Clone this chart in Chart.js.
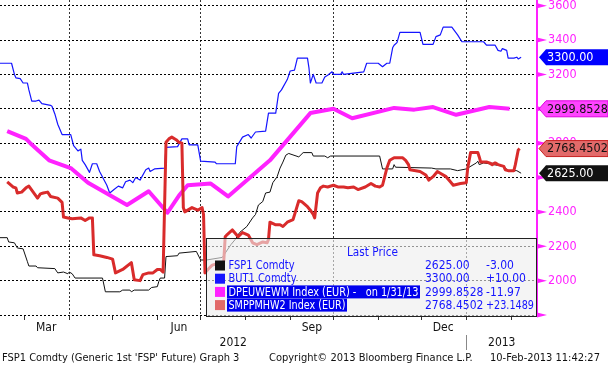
<!DOCTYPE html>
<html>
<head>
<meta charset="utf-8">
<script src="https://cdn.jsdelivr.net/npm/chart.js@4.4.0/dist/chart.umd.min.js"></script>
<style>
  html, body { margin: 0; padding: 0; background: #fff; }
  #wrap { width: 608px; height: 369px; }
</style>
</head>
<body>
<div id="wrap"><canvas id="chart" width="608" height="369"></canvas></div>
<script>
// FSP1 Comdty (black)
const fsp1Dates = ['2012-02-13','2012-02-18','2012-02-19','2012-02-23','2012-02-25','2012-02-29','2012-03-03','2012-03-04','2012-03-09','2012-03-10','2012-03-22','2012-03-24','2012-03-28','2012-03-31','2012-04-01','2012-04-03','2012-04-05','2012-04-24','2012-04-26','2012-05-06','2012-05-08','2012-05-13','2012-05-14','2012-05-16','2012-05-26','2012-05-28','2012-06-01','2012-06-02','2012-06-03','2012-06-06','2012-06-07','2012-06-15','2012-06-16','2012-06-28','2012-07-01','2012-07-05','2012-07-16','2012-07-22','2012-07-25','2012-07-28','2012-08-02','2012-08-06','2012-08-08','2012-08-10','2012-08-13','2012-08-15','2012-08-18','2012-08-20','2012-08-23','2012-08-25','2012-08-27','2012-08-29','2012-08-31','2012-09-07','2012-09-10','2012-09-16','2012-09-17','2012-09-25','2012-09-27','2012-09-29','2012-11-02','2012-11-04','2012-11-11','2012-11-12','2012-11-13','2012-12-08','2012-12-11','2012-12-21','2012-12-26','2013-01-01','2013-01-08','2013-01-09','2013-01-10','2013-01-13','2013-01-17','2013-01-19','2013-01-20','2013-01-27','2013-01-30','2013-02-05','2013-02-08'];
const fsp1Values = [2250,2250,2225,2220,2190,2185,2110,2085,2085,2075,2070,2045,2050,2040,2050,2040,2015,2015,1935,1935,1945,1945,1935,1945,1945,1960,1965,1995,2015,2015,2140,2145,2160,2170,2120,2120,2135,2210,2240,2280,2315,2365,2385,2440,2460,2510,2515,2570,2605,2655,2690,2730,2740,2720,2745,2745,2725,2725,2715,2725,2725,2650,2650,2675,2660,2655,2650,2650,2640,2650,2685,2695,2675,2685,2680,2685,2675,2665,2640,2640,2625];

// BUT1 Comdty (blue)
const but1Dates = ['2012-02-13','2012-02-21','2012-02-23','2012-02-24','2012-02-27','2012-02-29','2012-03-03','2012-03-04','2012-03-06','2012-03-09','2012-03-11','2012-03-13','2012-03-19','2012-03-20','2012-03-22','2012-03-24','2012-03-27','2012-04-02','2012-04-04','2012-04-07','2012-04-09','2012-04-10','2012-04-12','2012-04-15','2012-04-17','2012-04-20','2012-04-22','2012-04-27','2012-04-29','2012-05-02','2012-05-05','2012-05-08','2012-05-10','2012-05-13','2012-05-15','2012-05-17','2012-05-20','2012-05-24','2012-05-26','2012-05-27','2012-05-30','2012-06-06','2012-06-07','2012-06-15','2012-06-18','2012-06-22','2012-06-23','2012-06-29','2012-07-01','2012-07-11','2012-07-12','2012-07-25','2012-07-26','2012-07-30','2012-08-03','2012-08-05','2012-08-08','2012-08-15','2012-08-17','2012-08-22','2012-08-24','2012-08-26','2012-08-30','2012-09-01','2012-09-04','2012-09-06','2012-09-13','2012-09-14','2012-09-15','2012-09-17','2012-09-19','2012-09-23','2012-09-25','2012-09-27','2012-09-30','2012-10-01','2012-10-06','2012-10-07','2012-10-08','2012-10-22','2012-10-24','2012-11-01','2012-11-04','2012-11-07','2012-11-09','2012-11-11','2012-11-12','2012-11-14','2012-11-16','2012-11-30','2012-12-02','2012-12-09','2012-12-11','2012-12-14','2012-12-16','2012-12-22','2012-12-26','2012-12-29','2013-01-13','2013-01-15','2013-01-21','2013-01-23','2013-01-25','2013-01-26','2013-01-29','2013-01-30','2013-02-03','2013-02-05','2013-02-06','2013-02-08'];
const but1Values = [3265,3265,3200,3180,3175,3150,3150,3110,3045,3045,3050,3030,3020,3015,2970,2910,2850,2850,2785,2755,2765,2700,2675,2630,2680,2680,2635,2555,2510,2530,2550,2540,2575,2585,2570,2600,2585,2645,2655,2635,2650,2655,2775,2780,2825,2825,2790,2790,2695,2690,2680,2680,2780,2835,2850,2830,2865,2870,2975,2975,3090,3110,3170,3220,3225,3295,3295,3240,3150,3200,3150,3150,3185,3195,3215,3200,3200,3215,3200,3215,3265,3265,3245,3265,3265,3355,3370,3385,3445,3445,3375,3375,3420,3430,3475,3475,3430,3390,3390,3370,3370,3340,3335,3350,3340,3295,3295,3300,3290,3300];

// DPEUWEWM Index (EUR) (magenta)
const dpeuDates = ['2012-02-18','2012-03-02','2012-03-05','2012-03-18','2012-04-02','2012-04-14','2012-05-11','2012-05-26','2012-06-08','2012-06-16','2012-06-22','2012-07-08','2012-07-20','2012-08-18','2012-09-15','2012-10-01','2012-10-14','2012-11-12','2012-11-26','2012-12-09','2012-12-25','2013-01-17','2013-01-31'];
const dpeuValues = [2870,2825,2800,2700,2655,2570,2440,2520,2395,2495,2555,2565,2490,2700,2975,3000,2945,3005,2995,3010,2965,3010,2999.8528];

// SMPPMHW2 Index (EUR) (red)
const smppDates = ['2012-02-18','2012-02-22','2012-02-24','2012-02-25','2012-02-28','2012-03-02','2012-03-04','2012-03-10','2012-03-12','2012-03-14','2012-03-17','2012-03-19','2012-03-24','2012-03-27','2012-03-28','2012-03-31','2012-04-03','2012-04-09','2012-04-12','2012-04-15','2012-04-17','2012-04-18','2012-04-22','2012-04-27','2012-05-01','2012-05-03','2012-05-08','2012-05-14','2012-05-16','2012-05-20','2012-05-22','2012-05-26','2012-05-29','2012-06-01','2012-06-03','2012-06-05','2012-06-07','2012-06-09','2012-06-11','2012-06-14','2012-06-16','2012-06-18','2012-06-19','2012-06-20','2012-06-25','2012-06-29','2012-07-02','2012-07-03','2012-07-04','2012-07-06','2012-07-09','2012-07-17','2012-07-18','2012-07-19','2012-07-23','2012-07-27','2012-07-30','2012-08-03','2012-08-06','2012-08-09','2012-08-13','2012-08-16','2012-08-17','2012-08-18','2012-08-22','2012-08-25','2012-08-27','2012-08-30','2012-09-03','2012-09-07','2012-09-09','2012-09-13','2012-09-15','2012-09-17','2012-09-18','2012-09-20','2012-09-22','2012-09-24','2012-09-27','2012-10-01','2012-10-04','2012-10-08','2012-10-11','2012-10-15','2012-10-18','2012-10-23','2012-10-27','2012-10-30','2012-11-02','2012-11-04','2012-11-07','2012-11-09','2012-11-12','2012-11-18','2012-11-20','2012-11-22','2012-11-23','2012-11-30','2012-12-04','2012-12-06','2012-12-09','2012-12-12','2012-12-14','2012-12-18','2012-12-21','2012-12-23','2012-12-28','2013-01-01','2013-01-02','2013-01-04','2013-01-09','2013-01-10','2013-01-11','2013-01-15','2013-01-17','2013-01-19','2013-01-21','2013-01-23','2013-01-27','2013-01-28','2013-01-30','2013-02-03','2013-02-04','2013-02-06','2013-02-07'];
const smppValues = [2575,2545,2540,2510,2515,2540,2550,2480,2505,2510,2515,2490,2480,2455,2370,2365,2360,2365,2350,2365,2365,2150,2145,2135,2125,2045,2065,2105,2005,2000,2035,2045,2045,2065,2065,2050,2805,2825,2835,2820,2805,2800,2425,2400,2425,2410,2425,2385,2045,2065,2090,2110,2255,2265,2295,2255,2280,2265,2220,2210,2225,2220,2240,2340,2325,2325,2315,2340,2355,2465,2460,2430,2410,2385,2365,2510,2540,2550,2545,2555,2545,2545,2540,2545,2530,2545,2565,2550,2545,2555,2655,2700,2715,2715,2700,2675,2645,2635,2615,2585,2605,2635,2625,2605,2575,2555,2565,2570,2655,2745,2745,2720,2690,2690,2685,2675,2685,2675,2665,2645,2640,2640,2675,2760,2768.4502];

// axes
const axisStart = '2012-02-13';
const axisEnd = '2013-02-19';
const monthStarts = ['2012-03-01','2012-04-01','2012-05-01','2012-06-01','2012-07-01','2012-08-01','2012-09-01','2012-10-01','2012-11-01','2012-12-01','2013-01-01','2013-02-01'];
const quarterStarts = ['2012-04-01','2012-07-01','2012-10-01','2013-01-01'];
const monthLabelDates = ['2012-03-16','2012-06-16','2012-09-16','2012-12-16'];
const monthLabelNames = ['Mar','Jun','Sep','Dec'];
const yearNames = ['2012','2013'];
const yearBreak = '2013-01-01';
const yMin = 1800, yMax = 3633, yStep = 100, yLabelStep = 200;

// legend table
const legendNames = ['FSP1 Comdty','BUT1 Comdty','DPEUWEWM Index (EUR) -   on 1/31/13','SMPPMHW2 Index (EUR)'];
const lastPrices = ['2625.00','3300.00','2999.8528','2768.4502'];
const changes = ['-3.00','+10.00','-11.97','+23.1489'];
const lastValues = [2625, 3300, 2999.8528, 2768.4502];

const footer = ["FSP1 Comdty (Generic 1st 'FSP' Future) Graph 3", 'Copyright\u00a9 2013 Bloomberg Finance L.P.', '10-Feb-2013 11:42:27'];

const FONT = "'DejaVu Sans Condensed', 'Liberation Sans', Arial, sans-serif";
const BLACK = '#111111', BLUE = '#1515ff', MAGENTA = '#ff22ff', RED = '#d92b2b', SALMON = '#e26a6a';

const base = Date.parse('2012-03-01');
const day = s => (Date.parse(s) - base) / 864e5;
const pts = (dates, values) => dates.map((d, i) => ({ x: day(d), y: values[i] }));
const monthDays = monthStarts.map(day);
const quarterDays = quarterStarts.map(day);
const labelDays = monthLabelDates.map(day);

Chart.defaults.font.family = FONT;

const overlay = {
  id: 'overlay',
  afterDraw(chart) {
    const ctx = chart.ctx;
    const xs = chart.scales.x, ys = chart.scales.y;
    const right = chart.chartArea.right;
    ctx.save();

    // right axis tick marks
    ctx.fillStyle = MAGENTA;
    ctx.strokeStyle = MAGENTA;
    ctx.lineWidth = 1;
    ys.ticks.forEach(t => {
      const py = ys.getPixelForValue(t.value);
      if (t.value % yLabelStep === 0) {
        ctx.beginPath();
        ctx.moveTo(right, py - 2.5);
        ctx.lineTo(right + 10, py);
        ctx.lineTo(right, py + 2.5);
        ctx.closePath();
        ctx.fill();
      } else {
        ctx.beginPath();
        ctx.moveTo(right, py + 0.5);
        ctx.lineTo(right + 6, py + 0.5);
        ctx.stroke();
      }
    });

    // years under the months
    const xb = Math.round(xs.getPixelForValue(day(yearBreak))) + 0.5;
    ctx.strokeStyle = '#888';
    ctx.beginPath();
    ctx.moveTo(xb, 335);
    ctx.lineTo(xb, 350);
    ctx.stroke();
    ctx.fillStyle = BLACK;
    ctx.font = '12px ' + FONT;
    ctx.textAlign = 'center';
    ctx.textBaseline = 'middle';
    ctx.fillText(yearNames[0], (xs.left + xb) / 2, 343);
    ctx.fillText(yearNames[1], (xb + right) / 2, 343);

    // footer
    ctx.font = '11px ' + FONT;
    ctx.textAlign = 'left';
    ctx.fillText(footer[0], 2, 358, 255);
    ctx.fillText(footer[1], 269, 358, 208);
    ctx.fillText(footer[2], 490, 358, 115);

    // legend box
    ctx.fillStyle = 'rgba(238,238,238,0.62)';
    ctx.fillRect(206, 238, 330, 78);
    ctx.strokeStyle = '#222';
    ctx.strokeRect(206.5, 238.5, 330, 78);
    ctx.font = '12px ' + FONT;
    ctx.fillStyle = BLUE;
    ctx.fillText('Last Price', 347, 252.5, 51);
    const rowColors = [BLACK, BLUE, MAGENTA, SALMON];
    const highlight = [false, false, true, true];
    const nameWidths = [66, 68, 190, 117];
    legendNames.forEach((name, i) => {
      const cy = 265.5 + i * 13.2;
      ctx.fillStyle = rowColors[i];
      ctx.fillRect(215, cy - 5, 10, 10);
      const w = Math.min(ctx.measureText(name).width, nameWidths[i]);
      if (highlight[i]) {
        ctx.fillStyle = '#0000ee';
        ctx.fillRect(227, cy - 6.5, w + 3, 13);
        ctx.fillStyle = '#ffffff';
      } else {
        ctx.fillStyle = BLUE;
      }
      ctx.fillText(name, 228.5, cy + 0.5, nameWidths[i]);
      ctx.fillStyle = BLUE;
      ctx.fillText(lastPrices[i], 425, cy + 0.5, 60);
      ctx.fillText(changes[i], 486, cy + 0.5, 48);
    });

    // last price tags on the right axis
    const tagStyles = [
      { fill: BLACK, stroke: null, text: '#ffffff' },
      { fill: '#0000ff', stroke: null, text: '#ffffff' },
      { fill: '#ff44ff', stroke: '#dd00dd', text: '#111111' },
      { fill: SALMON, stroke: '#c82020', text: '#111111' }
    ];
    ctx.font = '12.5px ' + FONT;
    [1, 2, 3, 0].forEach(i => {
      const py = ys.getPixelForValue(lastValues[i]);
      const s = tagStyles[i];
      ctx.beginPath();
      ctx.moveTo(right + 2, py);
      ctx.lineTo(right + 9, py - 8);
      ctx.lineTo(608, py - 8);
      ctx.lineTo(608, py + 8);
      ctx.lineTo(right + 9, py + 8);
      ctx.closePath();
      ctx.fillStyle = s.fill;
      ctx.fill();
      if (s.stroke) {
        ctx.strokeStyle = s.stroke;
        ctx.stroke();
      }
      ctx.fillStyle = s.text;
      ctx.fillText(lastPrices[i], right + 10, py + 0.5, 61);
    });
    ctx.restore();
  }
};

new Chart(document.getElementById('chart'), {
  type: 'line',
  data: {
    datasets: [
      { label: 'SMPPMHW2 Index (EUR)', data: pts(smppDates, smppValues), borderColor: RED, borderWidth: 3 },
      { label: 'DPEUWEWM Index (EUR)', data: pts(dpeuDates, dpeuValues), borderColor: MAGENTA, borderWidth: 4 },
      { label: 'BUT1 Comdty', data: pts(but1Dates, but1Values), borderColor: BLUE, borderWidth: 1.2 },
      { label: 'FSP1 Comdty', data: pts(fsp1Dates, fsp1Values), borderColor: BLACK, borderWidth: 1 }
    ]
  },
  options: {
    responsive: false,
    animation: false,
    layout: { padding: 0 },
    elements: {
      point: { radius: 0 },
      line: { tension: 0, borderJoinStyle: 'round', fill: false }
    },
    plugins: { legend: { display: false }, tooltip: { enabled: false } },
    scales: {
      x: {
        type: 'linear',
        min: day(axisStart),
        max: day(axisEnd),
        afterBuildTicks: s => {
          s.ticks = monthDays.concat(labelDays).sort((a, b) => a - b).map(v => ({ value: v }));
        },
        afterFit: s => { s.height = 54; s.paddingLeft = 0; s.paddingRight = 0; },
        grid: {
          color: c => (c.tick && quarterDays.includes(c.tick.value)) ? '#333' : 'rgba(0,0,0,0)',
          tickColor: c => (c.tick && monthDays.includes(c.tick.value)) ? '#333' : 'rgba(0,0,0,0)',
          tickLength: 5,
          lineWidth: 1
        },
        border: { display: false, dash: [2, 2] },
        ticks: {
          autoSkip: false,
          maxRotation: 0,
          padding: 1,
          color: BLACK,
          font: { size: 12 },
          callback: v => {
            const i = labelDays.indexOf(v);
            return i >= 0 ? monthLabelNames[i] : '';
          }
        }
      },
      y: {
        position: 'right',
        min: yMin,
        max: yMax,
        afterBuildTicks: s => {
          const t = [];
          for (let v = yMin; v <= 3600; v += yStep) t.push({ value: v });
          s.ticks = t;
        },
        afterFit: s => { s.width = 71; s.paddingTop = 0; s.paddingBottom = 0; },
        grid: {
          color: c => (c.tick && c.tick.value % yLabelStep === 0) ? '#000' : 'rgba(0,0,0,0)',
          drawTicks: false,
          lineWidth: 1
        },
        border: { color: MAGENTA, width: 2, dash: [2, 2] },
        ticks: {
          padding: 11,
          color: MAGENTA,
          font: { size: 12.5 },
          callback: v => (v % yLabelStep === 0 && v >= 2000) ? String(v) : ''
        }
      }
    }
  },
  plugins: [overlay]
});
</script>
</body>
</html>
